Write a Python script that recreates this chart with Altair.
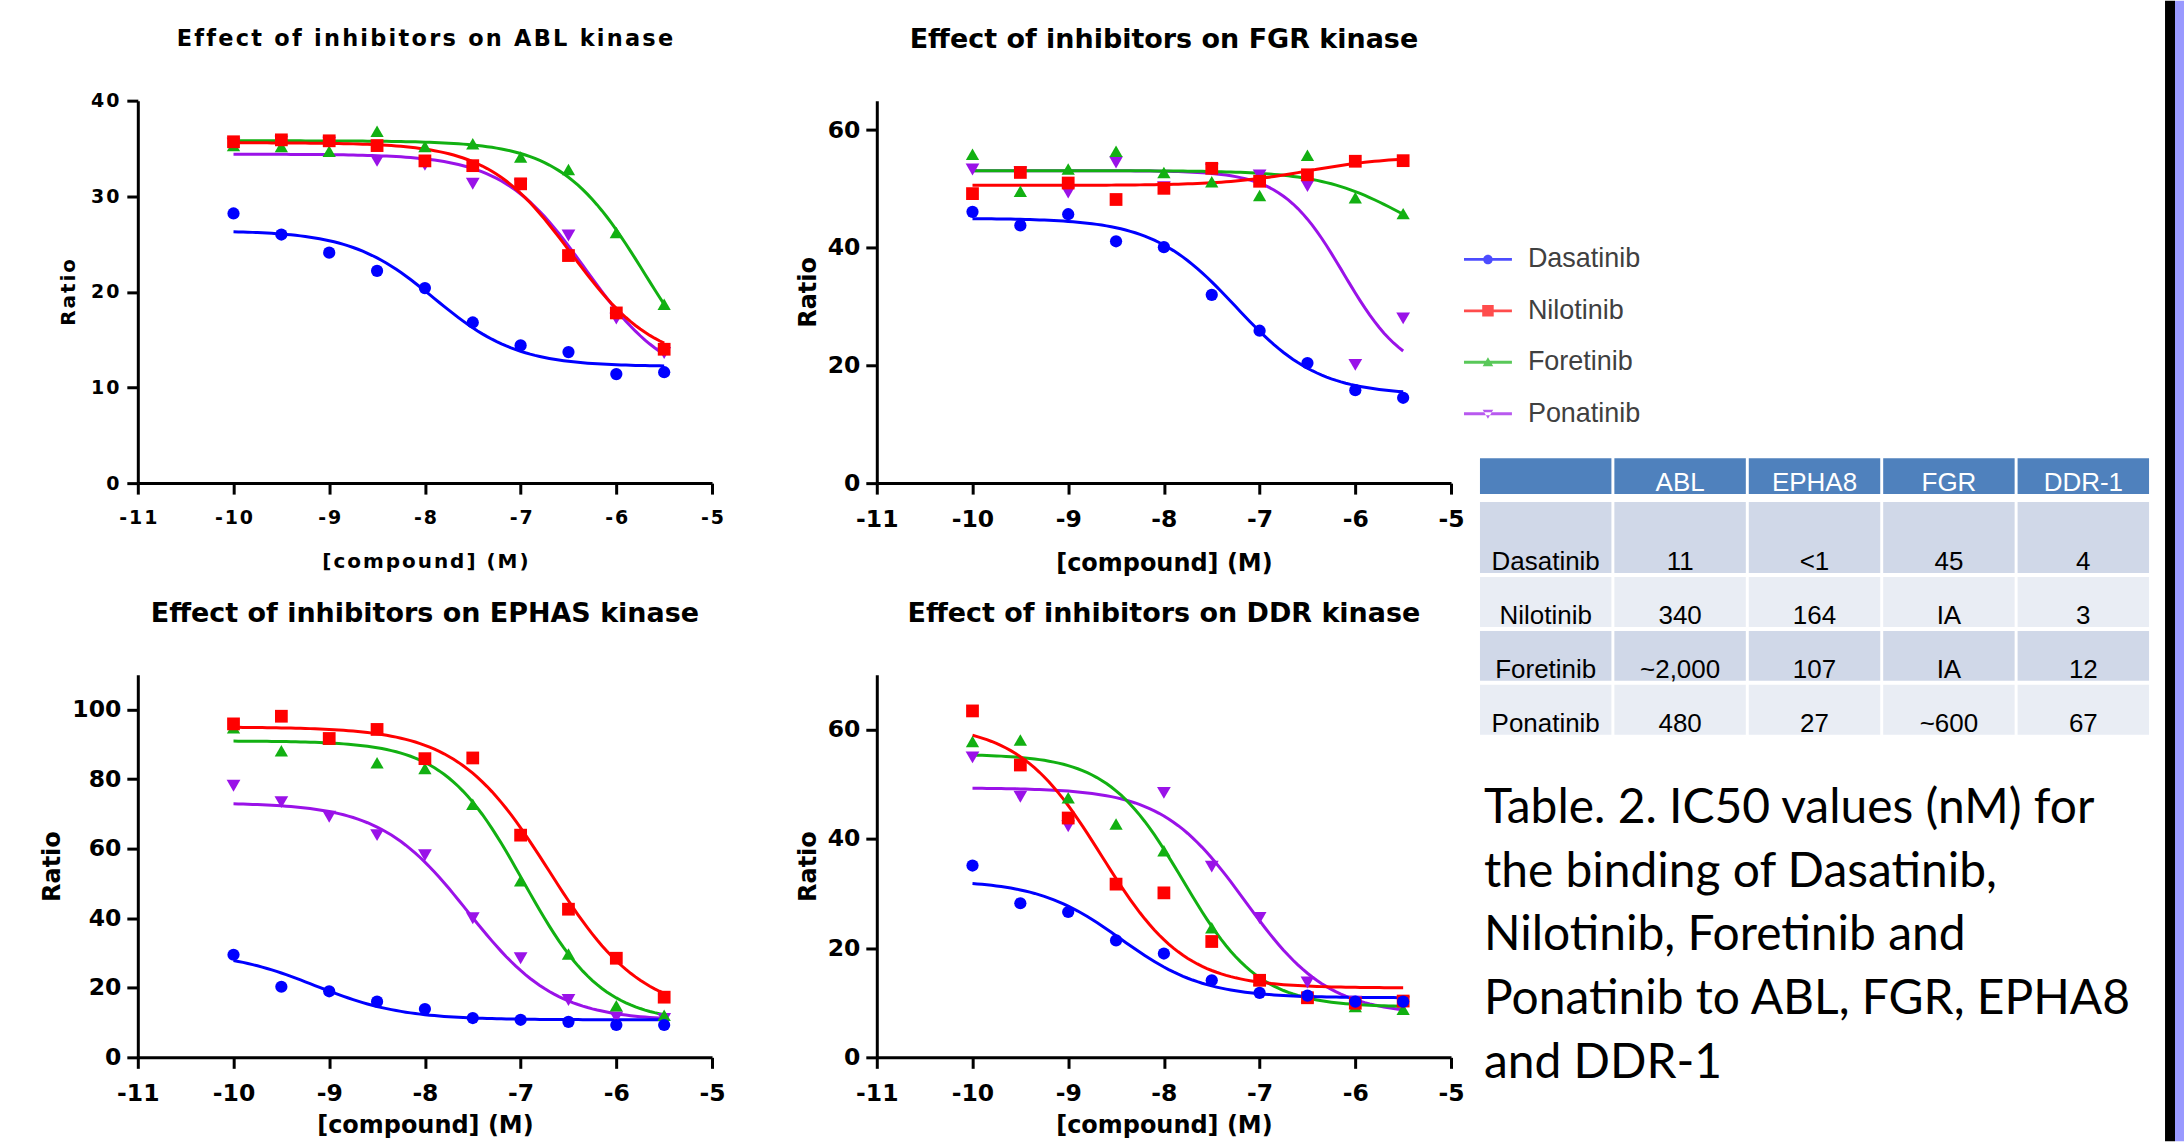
import altair as alt
import numpy as np
import pandas as pd

# ---------------------------------------------------------------- data
LOG_CONC = [-10, -9.5, -9, -8.5, -8, -7.5, -7, -6.5, -6, -5.5]
DRUGS = ["Dasatinib", "Nilotinib", "Foretinib", "Ponatinib"]
COLORS = ["#0000FF", "#FF0000", "#12B012", "#9A12E8"]
SHAPES = ["circle", "square", "triangle-up", "triangle-down"]

# measured ratio per inhibitor, one list per kinase (None = not plotted)
ABL_RATIO = {
    "Dasatinib": [28.2, 26.0, 24.1, 22.2, 20.4, 16.8, 14.4, 13.7, 11.4, 11.6],
    "Nilotinib": [35.7, 35.9, 35.8, 35.3, 33.7, 33.2, 31.3, 23.8, 17.8, 14.0],
    "Foretinib": [35.3, 35.2, 34.7, 36.8, 35.2, 35.5, 34.1, 32.8, 26.2, 18.7],
    "Ponatinib": [35.5, 35.7, 35.6, 33.7, 33.3, 31.3, 31.2, 25.9, 17.2, 13.6],
}
FGR_RATIO = {
    "Dasatinib": [46.1, 43.8, 45.7, 41.1, 40.1, 32.0, 25.9, 20.4, 15.8, 14.5],
    "Nilotinib": [49.2, 52.8, 51.0, 48.2, 50.1, 53.5, 51.3, 52.4, 54.7, 54.8],
    "Foretinib": [55.9, 49.6, 53.4, 56.4, 52.8, 51.2, 48.9, 55.7, 48.5, 45.8],
    "Ponatinib": [53.3, 52.8, 49.4, 54.5, 50.3, 53.3, 52.3, 50.5, 20.1, 28.0],
}
EPHAS_RATIO = {
    "Dasatinib": [29.5, 20.3, 19.0, 16.0, 13.9, 11.3, 10.8, 10.2, 9.3, 9.3],
    "Nilotinib": [95.9, 98.1, 91.7, 94.3, 85.9, 86.1, 63.9, 42.6, 28.5, 17.3],
    "Foretinib": [94.8, 88.2, 91.5, 84.7, 83.1, 72.8, 50.8, 29.7, 14.8, 12.1],
    "Ponatinib": [78.1, 73.4, 69.2, 63.9, 58.1, 40.0, 28.5, 16.5, 11.5, 11.0],
}
DDR_RATIO = {
    "Dasatinib": [35.1, 28.2, 26.6, 21.4, 19.0, 14.1, 11.8, 11.3, 10.2, 10.2],
    "Nilotinib": [63.4, 53.5, 43.8, 31.7, 30.1, 21.2, 14.1, 10.9, 9.9, 10.3],
    "Foretinib": [57.8, 58.1, 47.5, 42.7, 37.8, 23.7, 14.2, 11.1, 9.3, 8.8],
    "Ponatinib": [54.9, 47.7, 42.3, None, 48.4, 34.9, 25.5, 13.7, 10.2, 10.1],
}

# four-parameter logistic fits: (start, end, logIC50, hill slope)
ABL_FIT = {
    "Dasatinib": (26.4, 12.2, -7.90, 1.0),
    "Nilotinib": (35.6, 12.4, -6.47, 1.0),
    "Foretinib": (35.8, 7.9, -5.70, 1.0),
    "Ponatinib": (34.4, 10.3, -6.32, 1.0),
}
FGR_FIT = {
    "Dasatinib": (45.0, 15.0, -7.25, 1.0),
    "Nilotinib": (50.6, 55.5, -6.50, 1.0),
    "Foretinib": (53.1, 38.3, -5.50, 1.0),
    "Ponatinib": (53.1, 18.0, -6.12, 1.35),
}
EPHAS_FIT = {
    "Dasatinib": (30.5, 10.8, -9.15, 0.95),
    "Nilotinib": (95.0, 12.0, -6.70, 0.9),
    "Foretinib": (91.0, 10.0, -6.97, 1.05),
    "Ponatinib": (73.2, 10.5, -7.55, 0.95),
}
DDR_FIT = {
    "Dasatinib": (32.4, 10.9, -8.45, 1.0),
    "Nilotinib": (61.0, 12.7, -8.65, 1.0),
    "Foretinib": (55.5, 9.2, -7.80, 1.1),
    "Ponatinib": (49.3, 7.8, -7.15, 1.0),
}

PANEL_KEYS = ["ABL", "FGR", "EPHAS", "DDR"]
PANEL_TITLES = [
    "Effect of inhibitors on ABL kinase",
    "Effect of inhibitors on FGR kinase",
    "Effect of inhibitors on EPHAS kinase",
    "Effect of inhibitors on DDR kinase",
]
Y_MAX = [40, 65, 110, 70]
Y_TICKS = [[0, 10, 20, 30, 40], [0, 20, 40, 60], [0, 20, 40, 60, 80, 100], [0, 20, 40, 60]]
X_TICKS = [-11, -10, -9, -8, -7, -6, -5]

TABLE_COLUMNS = ["ABL", "EPHA8", "FGR", "DDR-1"]
IC50_NM = {
    "Dasatinib": ["11", "<1", "45", "4"],
    "Nilotinib": ["340", "164", "IA", "3"],
    "Foretinib": ["~2,000", "107", "IA", "12"],
    "Ponatinib": ["480", "27", "~600", "67"],
}
CAPTION = [
    "Table. 2. IC50 values (nM) for",
    "the binding of Dasatinib,",
    "Nilotinib, Foretinib and",
    "Ponatinib to ABL, FGR, EPHA8",
    "and DDR-1",
]

# ---------------------------------------------------------------- tables
draw_order = DRUGS[::-1]  # Dasatinib ends up on top
ratios = dict(zip(PANEL_KEYS, [ABL_RATIO, FGR_RATIO, EPHAS_RATIO, DDR_RATIO]))
fits = dict(zip(PANEL_KEYS, [ABL_FIT, FGR_FIT, EPHAS_FIT, DDR_FIT]))

point_rows = []
for key in PANEL_KEYS:
    for drug in draw_order:
        for c, r in zip(LOG_CONC, ratios[key][drug]):
            if r is not None:
                point_rows.append({"panel": key, "drug": drug, "logc": c, "ratio": r})
points = pd.DataFrame(point_rows)


def logistic(x, start, end, mid, hill):
    """Fitted dose-response curve (four-parameter logistic)."""
    return start + (end - start) / (1.0 + 10.0 ** ((mid - x) * hill))


x_fit = np.linspace(min(LOG_CONC), max(LOG_CONC), 91)
curve_rows = []
for key in PANEL_KEYS:
    for drug in draw_order:
        for x, y in zip(x_fit, logistic(x_fit, *fits[key][drug])):
            curve_rows.append({"panel": key, "drug": drug, "logc": float(x), "ratio": float(y)})
curves = pd.DataFrame(curve_rows)

# ---------------------------------------------------------------- styles
HAIR = "\u200a"


def spaced(s):
    return HAIR.join(s)


SPACED = dict(spaced=True, font="DejaVu Sans", label=19, title=20, head=22.5,
              lpx=14, lpy=8, tpx=24, tpy=12, offset=23)
PLAIN_TOP = dict(spaced=False, font="DejaVu Sans", label=23.5, title=24, head=27,
                 lpx=13, lpy=6, tpx=21, tpy=7, offset=26)
PLAIN_BOTTOM = dict(PLAIN_TOP, tpx=9)

color_scale = alt.Scale(domain=DRUGS, range=COLORS)
shape_scale = alt.Scale(domain=DRUGS, range=SHAPES)
size_scale = alt.Scale(domain=DRUGS, range=[150, 190, 150, 150])


def axis(st, values, title, is_x):
    expr = "'' + datum.value"
    if st["spaced"]:
        expr = "join(split('' + datum.value, ''), '" + HAIR + "')"
        title = spaced(title)
    return alt.Axis(
        values=values, labelExpr=expr, title=title, grid=False,
        labelFlush=False, labelOverlap=False,
        domainColor="black", domainWidth=3, tickColor="black", tickWidth=3, tickSize=11,
        labelFont=st["font"], labelFontSize=st["label"], labelFontWeight="bold",
        labelColor="black", labelPadding=st["lpx"] if is_x else st["lpy"],
        titleFont=st["font"], titleFontSize=st["title"], titleFontWeight="bold",
        titleColor="black", titlePadding=st["tpx"] if is_x else st["tpy"],
    )


def panel(i, st):
    key = PANEL_KEYS[i]
    title = PANEL_TITLES[i]
    if st["spaced"]:
        title = spaced(title)
    x_enc = alt.X("logc:Q", scale=alt.Scale(domain=[-11, -5], nice=False, zero=False),
                  axis=axis(st, X_TICKS, "[compound] (M)", True))
    y_enc = alt.Y("ratio:Q", scale=alt.Scale(domain=[0, Y_MAX[i]], nice=False, zero=True),
                  axis=axis(st, Y_TICKS[i], "Ratio", False))
    col = alt.Color("drug:N", scale=color_scale, legend=None)
    lines = alt.Chart(curves).transform_filter(alt.datum.panel == key).mark_line(
        strokeWidth=3).encode(x=x_enc, y=y_enc, color=col)
    dots = alt.Chart(points).transform_filter(alt.datum.panel == key).mark_point(
        filled=True, opacity=1, strokeWidth=0).encode(
        x=x_enc, y=y_enc, color=col,
        shape=alt.Shape("drug:N", scale=shape_scale, legend=None),
        size=alt.Size("drug:N", scale=size_scale, legend=None),
    )
    return alt.layer(lines, dots).properties(
        width=575, height=383,
        title=alt.TitleParams(text=title, font=st["font"], fontSize=st["head"],
                              fontWeight="bold", color="black", anchor="middle",
                              baseline="alphabetic", offset=st["offset"]),
    )


# ---------------------------------------------------------------- legend + table
LEGEND_PATHS = [
    "M-1,-0.06H1V0.06H-1Z M0.2,0A0.2,0.2 0 1,1 -0.2,0A0.2,0.2 0 1,1 0.2,0Z",
    "M-1,-0.06H1V0.06H-1Z M-0.24,-0.24H0.24V0.24H-0.24Z",
    "M-1,-0.06H1V0.06H-1Z M0,-0.21L0.22,0.17H-0.22Z",
    "M-1,-0.06H1V0.06H-1Z M0,0.21L0.22,-0.17H-0.22Z",
]
leg = alt.Legend(orient="none", legendX=-152, legendY=135, title=None,
                 symbolSize=2304, symbolStrokeWidth=0, labelFont="Liberation Sans",
                 labelFontSize=27, labelColor="#404040", labelOffset=16,
                 rowPadding=14.5, padding=0)
legend_carrier = alt.Chart(pd.DataFrame({"drug": DRUGS})).transform_filter("false").mark_point(
    filled=True).encode(
    color=alt.Color("drug:N", scale=color_scale, legend=leg),
    shape=alt.Shape("drug:N", scale=alt.Scale(domain=DRUGS, range=LEGEND_PATHS), legend=leg),
)

COL_KEYS = ["name"] + TABLE_COLUMNS
header = pd.DataFrame({"col": COL_KEYS, "text": [""] + TABLE_COLUMNS, "hdr": "h"})
cell_rows = []
for i, drug in enumerate(DRUGS):
    cell_rows.append({"row": i, "drug": drug, "col": "name", "text": drug})
    for c, v in zip(TABLE_COLUMNS, IC50_NM[drug]):
        cell_rows.append({"row": i, "drug": drug, "col": c, "text": v})
cells = pd.DataFrame(cell_rows)

tx = alt.X("col:N", scale=alt.Scale(domain=COL_KEYS, range=[-136, 534],
                                    paddingInner=0.022, paddingOuter=0), axis=None)
TXT = dict(font="Liberation Sans", fontSize=26, baseline="alphabetic", dy=-3)


def table_block(df, y_field, domain, rng, pad, rect_fill, text_color):
    y_scale = alt.Scale(domain=domain, range=rng, paddingInner=pad, paddingOuter=0)
    y_band = alt.Y(f"{y_field}:N", scale=y_scale, axis=None)
    y_text = alt.Y(f"{y_field}:N", scale=y_scale, axis=None, bandPosition=1)
    base = alt.Chart(df)
    if rect_fill is None:
        rect = base.transform_calculate(
            fill="datum.row % 2 == 0 ? '#D0D8E8' : '#E9EDF4'").mark_rect().encode(
            x=tx, y=y_band, fill=alt.Fill("fill:N", scale=None))
    else:
        rect = base.mark_rect(color=rect_fill).encode(x=tx, y=y_band)
    text = base.mark_text(color=text_color, **TXT).encode(x=tx, y=y_text, text="text:N")
    return alt.layer(rect, text)


head_block = table_block(header, "hdr", ["h"], [358, 394], 0, "#4F81BD", "white")
first_block = table_block(cells[cells.row == 0], "drug", DRUGS[:1], [402, 473], 0, None, "black")
rest_block = table_block(cells[cells.row > 0], "drug", DRUGS[1:], [477, 635], 0.074, None, "black")

# slide edge on the right-hand side
edge = pd.DataFrame({"edge": [0]})
edge_dark = alt.Chart(edge).mark_rect(color="black").encode(
    x=alt.value(550), x2=alt.value(560), y=alt.value(-100), y2=alt.value(1042))
edge_light = alt.Chart(edge).mark_rect(color="#9999FF").encode(
    x=alt.value(560), x2=alt.value(569), y=alt.value(-100), y2=alt.value(1042))

SIDE_W = 569
side_top = alt.layer(edge_dark, edge_light, head_block, first_block, rest_block,
                     legend_carrier).resolve_scale(y="independent").properties(
    width=SIDE_W, height=383)

caption = alt.Chart(pd.DataFrame({"line": list(range(len(CAPTION))), "text": CAPTION})).mark_text(
    align="left", baseline="alphabetic", font="Lato", fontSize=48, color="black").encode(
    x=alt.value(-132),
    y=alt.Y("line:O", scale=alt.Scale(range=[148, 404], padding=0), axis=None),
    text="text:N",
)
side_bottom = alt.layer(caption).properties(width=SIDE_W, height=383)

chart = alt.concat(
    panel(0, SPACED), panel(1, PLAIN_TOP), side_top,
    panel(2, PLAIN_BOTTOM), panel(3, PLAIN_BOTTOM), side_bottom,
    columns=3, spacing=alt.RowColnumber(row=192, column=165),
    bounds="flush", align="each",
).resolve_scale(
    color="independent", shape="independent", size="independent"
).properties(
    padding={"left": 40, "top": 0, "right": 0, "bottom": 0},
    background="white",
).configure_view(stroke=None)

chart.save("out.html", embed_options={"renderer": "svg", "actions": False})
